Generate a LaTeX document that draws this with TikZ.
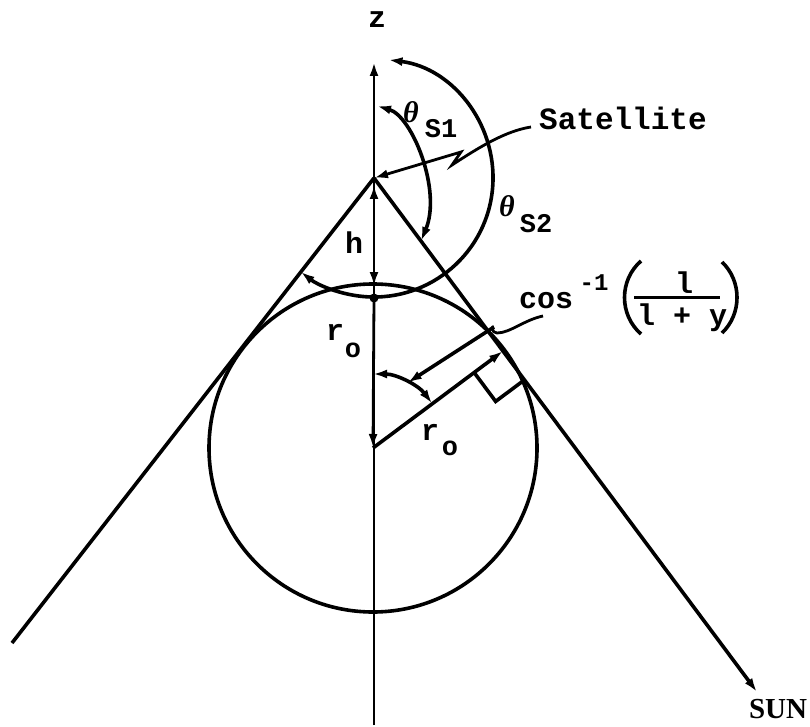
\documentclass[tikz,border=0pt]{standalone}
\usepackage{fontspec}
\setmainfont{Liberation Serif}
\newfontfamily\tfont{Liberation Mono}
\usetikzlibrary{arrows.meta,calc}
\begin{document}
\begin{tikzpicture}[x=1pt,y=-1pt,
  thick line/.style={line width=3.6pt},
  thin line/.style={line width=2.8pt},
  tipend/.style={-{Latex[length=14pt,width=9pt]}},
  tipboth/.style={{Latex[length=14pt,width=9pt]}-{Latex[length=14pt,width=9pt]}},
  lbl/.style={inner sep=0pt, anchor=base, font=\tfont\bfseries\fontsize{30}{30}\selectfont},
  sublbl/.style={inner sep=0pt, anchor=base, font=\tfont\bfseries\fontsize{27}{27}\selectfont},
  thlbl/.style={inner sep=0pt, anchor=base, font=\bfseries\itshape\fontsize{30}{30}\selectfont}
]
\useasboundingbox (0,0) rectangle (810,727);

% key points
\coordinate (S) at (374,178);
\coordinate (C) at (373,448);
\coordinate (T) at (503,351);
\coordinate (ztop) at (374,62);
\coordinate (zbot) at (374,725);
\coordinate (L) at (12,643);
\coordinate (SUNtip) at (757,692);
\coordinate (etop) at (374,286);
\coordinate (hup) at (374,185);
\coordinate (rtop) at (374,298);

% earth
\draw[thick line] (C) circle[radius=164];

% z axis
\draw[thin line, tipend] (zbot) -- (ztop);

% tangent lines
\draw[thick line] (S) -- (L);
\draw[thick line, tipend] (S) -- (SUNtip);

% h and r_o
\draw[thin line, tipboth] (hup) -- (etop);
\fill (rtop) circle[radius=4.5];
\draw[thin line, tipend] (rtop) -- (C);

% radius to tangent point
\draw[thick line, tipend] (C) -- (T);
\coordinate (ra1) at ($(T)!36pt!(C)$);
\coordinate (ra2) at ($(T)!36pt!(SUNtip)$);
\draw[thick line] (ra1) -- ($(ra1)+(ra2)-(T)$) -- (ra2);

% theta S2 arc
\draw[thick line, tipboth] (S) ++(-83:119) arc[start angle=-83,end angle=128,radius=119];

% theta S1 arc
\coordinate (s1a) at (377,106);
\coordinate (s1b) at (421,241);
\draw[thick line, tipboth] (s1a) .. controls (412,116) and (442,190) .. (s1b);

% angle at earth centre
\draw[thick line, tipboth] (C) ++(-90:74) arc[start angle=-90,end angle=-37,radius=74];
\coordinate (A1) at ($(C)+(-62:74)$);
\coordinate (A2) at (494,327);
\draw[thick line, tipend] (A2) -- (A1);

% labels
\node[lbl] (z) at (377,28) {z};
\node[lbl, anchor=base west, font=\tfont\bfseries\fontsize{31}{31}\selectfont] (sat) at (539,130) {Satellite};
\node[thlbl] (th1) at (411,123) {θ};
\node[sublbl] (s1) at (441,138) {S1};
\node[thlbl] (th2) at (507,217) {θ};
\node[sublbl] (s2) at (536,233) {S2};
\node[lbl] (h) at (354,253) {h};
\node[lbl] (r1) at (335,340) {r};
\node[sublbl] (o1) at (353,357) {o};
\node[lbl] (r2) at (430,440) {r};
\node[sublbl] (o2) at (450,455) {o};
\node[lbl] (cos) at (546,308) {cos};
\node[sublbl, font=\tfont\bfseries\fontsize{24}{24}\selectfont] (m1) at (594,290) {-1};
\node[lbl] (num) at (684,293) {l};
\node[lbl] (den) at (682,325) {l + y};
\node[inner sep=0pt, anchor=base, font=\bfseries\fontsize{29}{29}\selectfont] (sun) at (778,718) {SUN};

% parentheses and fraction bar
\coordinate (lpt) at (641,261);
\coordinate (lpb) at (641,334);
\draw[line width=3.6pt] (lpt) .. controls (619,280) and (619,315) .. (lpb);
\coordinate (rpt) at (722,262);
\coordinate (rpb) at (722,333);
\draw[line width=3.6pt] (rpt) .. controls (742,281) and (742,314) .. (rpb);
\coordinate (bl) at (634,297);
\coordinate (br) at (720,297);
\draw[line width=3pt] (bl) -- (br);

% leaders
\draw[thin line, tipend] (531,127) .. controls (505,131) and (478,148) .. (452,165) -- (461,152) -- (S);
\draw[thin line] (543,316) .. controls (524,320) and (510,333) .. (497,333) .. controls (491,333) and (492,325) .. (A2);
\end{tikzpicture}
\end{document}
